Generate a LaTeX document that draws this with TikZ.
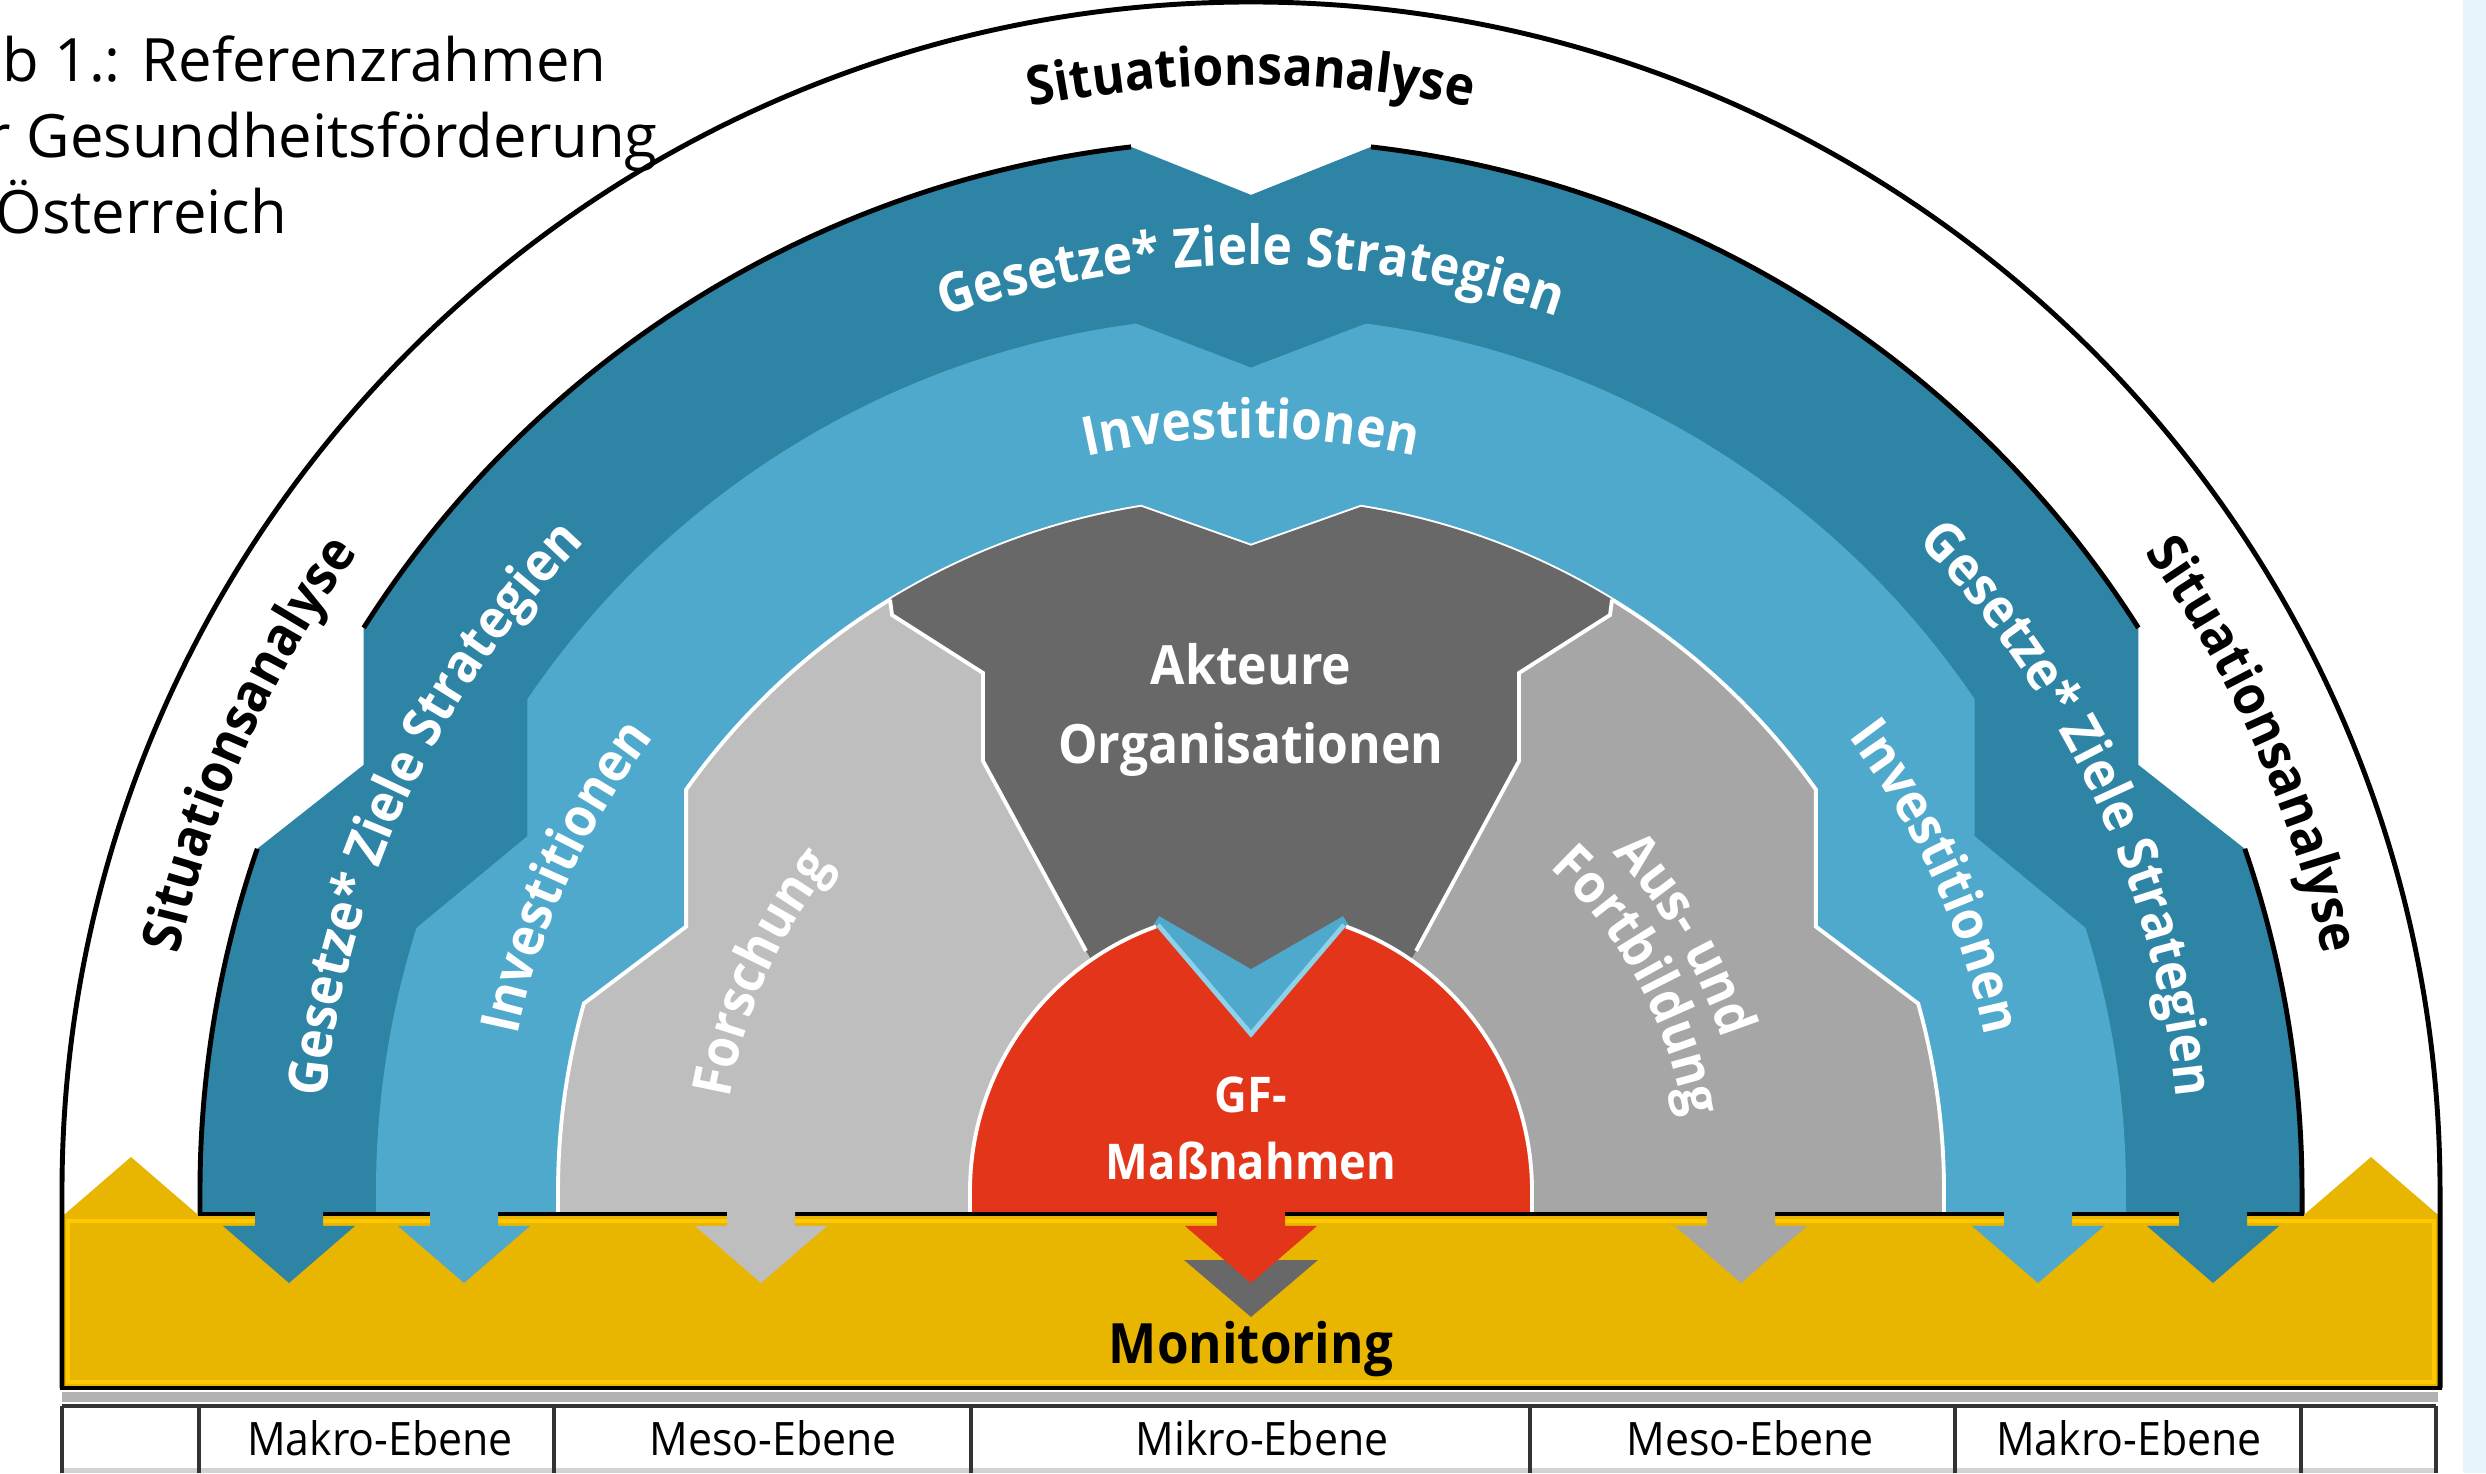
\documentclass[tikz,border=0pt]{standalone}
\usepackage{fontspec}
\setmainfont{Open Sans}
\newfontfamily\labelfont{Open Sans}[FakeStretch=0.92]
\newfontfamily\condfont{Open Sans}[FakeStretch=0.93]
\usetikzlibrary{decorations.text}

\definecolor{gesetze}{HTML}{2E84A5}
\definecolor{invest}{HTML}{4EA9CC}
\definecolor{investlight}{HTML}{8ED1EA}
\definecolor{forschung}{HTML}{BEBEBE}
\definecolor{bildung}{HTML}{A6A6A6}
\definecolor{akteure}{HTML}{686868}
\definecolor{massnahmen}{HTML}{E2351A}
\definecolor{monitoring}{HTML}{E8B500}
\definecolor{monlight}{HTML}{FFC800}
\definecolor{stripblue}{HTML}{E8F4FB}

\newcommand{\ringfont}{\labelfont\bfseries\fontsize{15.4}{18}\selectfont}
% ring boundary: #1 radius, #2/#3 side step angles, #4 half width and #5 depth of the top notch
\newcommand{\ringpath}[5]{(-#1,-23) -- (-#1,0) arc[start angle=180, end angle=#3, radius=#1]
  -- ({#1*cos(#2)},{#1*sin(#2)-137}) -- (#2:#1)
  arc[start angle=#2, end angle={90+asin(#4/#1)}, radius=#1]
  -- (0,{#1*cos(asin(#4/#1))-#5}) -- ({90-asin(#4/#1)}:#1)
  arc[start angle={90-asin(#4/#1)}, end angle={180-#2}, radius=#1]
  -- ({-#1*cos(#2)},{#1*sin(#2)-137}) -- ({180-#3}:#1)
  arc[start angle={180-#3}, end angle=0, radius=#1] -- (#1,-23)}

\begin{document}
\begin{tikzpicture}[x=0.01cm, y=0.01cm,
	blackline/.style={draw=black, line width=1.4pt},
	whiteline/.style={draw=white, line width=1.1pt},
	ringlabel/.style 2 args={decorate, decoration={text along path, text align=center,
		text color=#1, text={|\ringfont|#2}}},
	flatlabel/.style={font=\ringfont, text=white, anchor=base, inner sep=0pt},
	ebene/.style={font=\condfont\fontsize{13.1}{15}\selectfont, anchor=base, inner sep=0pt},
	title/.style={font=\fontsize{17}{20}\selectfont, anchor=base west, inner sep=0pt}]

	\useasboundingbox (0,0) rectangle (2486,1473);
	\clip (0,0) rectangle (2486,1473);
	\fill[white] (0,0) rectangle (2486,1473);
	\fill[stripblue] (2463,0) rectangle (2486,1473);

	\begin{scope}[shift={(1251,282)}]
		% rings
		\fill[gesetze] \ringpath{1051}{147.6}{161}{120}{48};
		\fill[invest] \ringpath{875}{145.8}{162.5}{115}{44};
		\begin{scope}
			\clip (-1300,-30) rectangle (0,800);
			\fill[forschung] \ringpath{693}{144.6}{164.3}{110}{39};
		\end{scope}
		\begin{scope}
			\clip (0,-30) rectangle (1300,800);
			\fill[bildung] \ringpath{693}{144.6}{164.3}{110}{39};
		\end{scope}
		\draw[whiteline] \ringpath{693}{144.6}{164.3}{110}{39};

		% Akteure
		\fill[invest] (-130,300) -- (130,300) -- (0,120) -- cycle;
		\fill[akteure] (121.4:693) -- (-359,576) -- (-268,518) -- (-268,430) -- (-165,240)
			-- (-140,200) -- (-92,275) -- (0,222) -- (92,275) -- (140,200) -- (165,240)
			-- (268,430) -- (268,518) -- (359,576) -- (58.6:693)
			arc[start angle=58.6, end angle={90-asin(110/693)}, radius=693]
			-- (0,{693*cos(asin(110/693))-39}) -- ({90+asin(110/693)}:693)
			arc[start angle={90+asin(110/693)}, end angle=121.4, radius=693] -- cycle;
		\draw[whiteline] (121.4:693) -- (-359,576) -- (-268,518) -- (-268,430) -- (-165,240);
		\draw[whiteline] (58.6:693) -- (359,576) -- (268,518) -- (268,430) -- (165,240);

		% GF-Massnahmen
		\draw[investlight, line width=2.8pt] (-95,264.4) -- (0,153) -- (95,264.4);
		\fill[massnahmen] (-281,-23) -- (-281,0) arc[start angle=180, end angle=109.76, radius=281]
			-- (0,153) -- (70.24:281) arc[start angle=70.24, end angle=0, radius=281] -- (281,-23) -- cycle;
		\draw[whiteline] (-281,-23) -- (-281,0) arc[start angle=180, end angle=109.76, radius=281];
		\draw[whiteline] (70.24:281) arc[start angle=70.24, end angle=0, radius=281] -- (281,-23);

		% Monitoring
		\fill[monitoring] (-1189,-197) -- (-1189,-23) -- (-1186,-23) -- (-1120,34) -- (-1054,-23)
			-- (1054,-23) -- (1120,34) -- (1186,-23) -- (1189,-23) -- (1189,-197) -- cycle;
		\draw[monlight, line width=1.2pt] (-1183,-30) -- (1183,-30) -- (1183,-191) -- (-1183,-191) -- cycle;
		\draw[blackline] (-1053,-23) -- (1053,-23);

		\fill[akteure] (-67,-69) -- (0,-126) -- (67,-69) -- cycle;
		\foreach \c/\col in {-962/gesetze, -787/invest, -490/forschung, 0/massnahmen,
				490/bildung, 787/invest, 962/gesetze} {
				\fill[\col] (\c-34,-17) -- (\c-34,-35) -- (\c-66,-35) -- (\c,-92)
				-- (\c+66,-35) -- (\c+34,-35) -- (\c+34,-17) -- cycle;
			}

		% outlines
		\draw[blackline] (-1189,-197) -- (-1189,0) arc[start angle=180, end angle=0, radius=1189] -- (1189,-197);
		\draw[blackline] (-1191,-197) -- (1191,-197);
		\draw[blackline] (-1051,-23) -- (-1051,0) arc[start angle=180, end angle=161, radius=1051];
		\draw[blackline] (147.6:1051) arc[start angle=147.6, end angle={90+asin(120/1051)}, radius=1051];
		\draw[blackline] ({90-asin(120/1051)}:1051) arc[start angle={90-asin(120/1051)}, end angle=32.4, radius=1051];
		\draw[blackline] (19:1051) arc[start angle=19, end angle=0, radius=1051] -- (1051,-23);

		% labels
		\path[ringlabel={black}{Situationsanalyse}] (120:1106) arc[start angle=120, end angle=60, radius=1106];
		\path[ringlabel={black}{Situationsanalyse}] (186:1098) arc[start angle=186, end angle=126, radius=1098];
		\path[ringlabel={black}{Situationsanalyse}] (54:1098) arc[start angle=54, end angle=-6, radius=1098];
		\path[ringlabel={white}{Gesetze* Ziele Strategien}] (125:926) arc[start angle=125, end angle=55, radius=926];
		\path[ringlabel={white}{Gesetze* Ziele Strategien}] (195:930) arc[start angle=195, end angle=115, radius=930];
		\path[ringlabel={white}{Gesetze* Ziele Strategien}] (65:930) arc[start angle=65, end angle=-15, radius=930];
		\path[ringlabel={white}{Investitionen}] (120:753) arc[start angle=120, end angle=60, radius=753];
		\path[ringlabel={white}{Investitionen}] (185.4:750) arc[start angle=185.4, end angle=125.4, radius=750];
		\path[ringlabel={white}{Investitionen}] (54.6:750) arc[start angle=54.6, end angle=-5.4, radius=750];
		\path[ringlabel={white}{Forschung}] (186:530) arc[start angle=186, end angle=126, radius=530];
		\path[ringlabel={white}{Aus- und}] (60.5:495) arc[start angle=60.5, end angle=0.5, radius=495];
		\path[ringlabel={white}{Fortbildung}] (58.5:440) arc[start angle=58.5, end angle=-1.5, radius=440];

		\node[flatlabel] (akt) at (0,506) {Akteure};
		\node[flatlabel] (org) at (0,427) {Organisationen};
		\node[flatlabel, font=\labelfont\bfseries\fontsize{14}{16}\selectfont] (gf) at (0,78) {GF-};
		\node[flatlabel, font=\labelfont\bfseries\fontsize{14}{16}\selectfont] (massn) at (0,12) {Maßnahmen};
		\node[flatlabel, text=black, font=\labelfont\bfseries\fontsize{15.8}{18}\selectfont] (mon) at (0,-172) {Monitoring};
	\end{scope}

	% levels
	\fill[gray!60] (62,71) rectangle (2438,81);
	\fill[white] (62,3) rectangle (2436,67);
	\fill[gray!35] (62,0) rectangle (2436,5);
	\draw[line width=1.1pt, black!80] (62,67) -- (2436,67);
	\foreach \x in {62,199,554,971,1530,1955,2301,2436} {
			\draw[line width=1.1pt, black!80] (\x,0) -- (\x,67);
		}
	\node[ebene] (mak1) at (380,18) {Makro-Ebene};
	\node[ebene] (mes1) at (773,18) {Meso-Ebene};
	\node[ebene] (mik) at (1262,18) {Mikro-Ebene};
	\node[ebene] (mes2) at (1750,18) {Meso-Ebene};
	\node[ebene] (mak2) at (2129,18) {Makro-Ebene};

	% caption
	\node[title] (tit1) at (2,1391) {b 1.: Referenzrahmen};
	\node[title] (tit2) at (-14,1315) {r Gesundheitsförderung};
	\node[title] (tit3) at (-5,1239) {Österreich};
\end{tikzpicture}
\end{document}
